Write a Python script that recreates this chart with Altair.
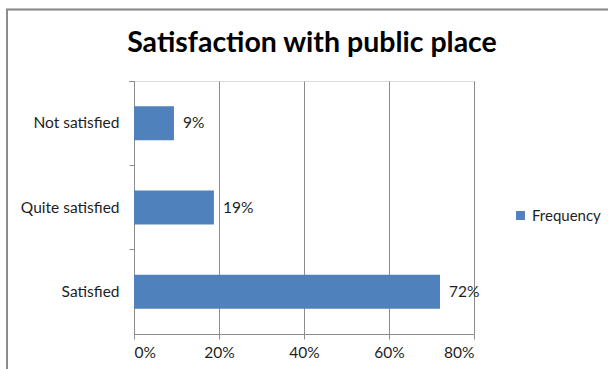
import altair as alt
import pandas as pd

categories = ["Not satisfied", "Quite satisfied", "Satisfied"]
values = [0.094, 0.188, 0.72]
series_name = "Frequency"
x_ticks = [0, 0.2, 0.4, 0.6, 0.8]
title_text = "Satisfaction with public place"

df = pd.DataFrame({"category": categories, "value": values, "series": [series_name] * 3})

FONT = "Lato"
GRID = "#8c8c8c"
TXT = "#1e1e1e"
FS = 15.5

y_enc = alt.Y("category:N", sort=categories, title=None,
              scale=alt.Scale(paddingInner=0, paddingOuter=0),
              axis=alt.Axis(bandPosition=0, tickExtra=True, tickSize=5, domainColor=GRID,
                            tickColor=GRID, labelFont=FONT, labelFontSize=FS, labelColor=TXT,
                            labelPadding=10, grid=False))
x_enc = alt.X("value:Q", title=None, scale=alt.Scale(domain=[0, 0.8], nice=False),
              axis=alt.Axis(values=x_ticks, format=".0%", grid=True, gridColor=GRID,
                            domainColor=GRID, tickColor=GRID, tickSize=5, labelFont=FONT,
                            labelFontSize=FS, labelColor=TXT, labelPadding=6))

bars = alt.Chart(df).mark_bar(size=34).encode(
    x=x_enc, y=y_enc,
    color=alt.Color("series:N", scale=alt.Scale(range=["#4F81BD"]), title=None,
                    legend=alt.Legend(orient="none", legendX=379, legendY=127,
                                      symbolType="square", symbolSize=80,
                                      symbolStrokeWidth=0, labelFont=FONT,
                                      labelFontSize=15, labelColor=TXT, labelOffset=4)),
)
labels = alt.Chart(df).mark_text(align="left", dx=9, font=FONT, fontSize=FS, color=TXT).encode(
    x="value:Q", y=alt.Y("category:N", sort=categories),
    text=alt.Text("value:Q", format=".0%"),
)
frame = alt.Chart(df).mark_rect(fill=None, stroke="#8a8a8a", strokeWidth=1.5).encode(
    x=alt.value(-127), x2=alt.value(600), y=alt.value(-71.5), y2=alt.value(400)
)
title = alt.Chart(pd.DataFrame({"t": [title_text]})).mark_text(
    font=FONT, fontSize=28.5, fontWeight="bold", color="#000", align="center", baseline="alphabetic"
).encode(text="t:N", x=alt.value(178), y=alt.value(-29))

chart = alt.layer(frame, bars, labels, title).properties(
    width=340, height=253,
    autosize=alt.AutoSizeParams(type="none"),
    padding={"left": 134, "top": 81, "right": 134, "bottom": 35},
).configure_view(stroke=None).configure(background="white")

chart.save("out.html", embed_options={"renderer": "svg", "actions": False})
